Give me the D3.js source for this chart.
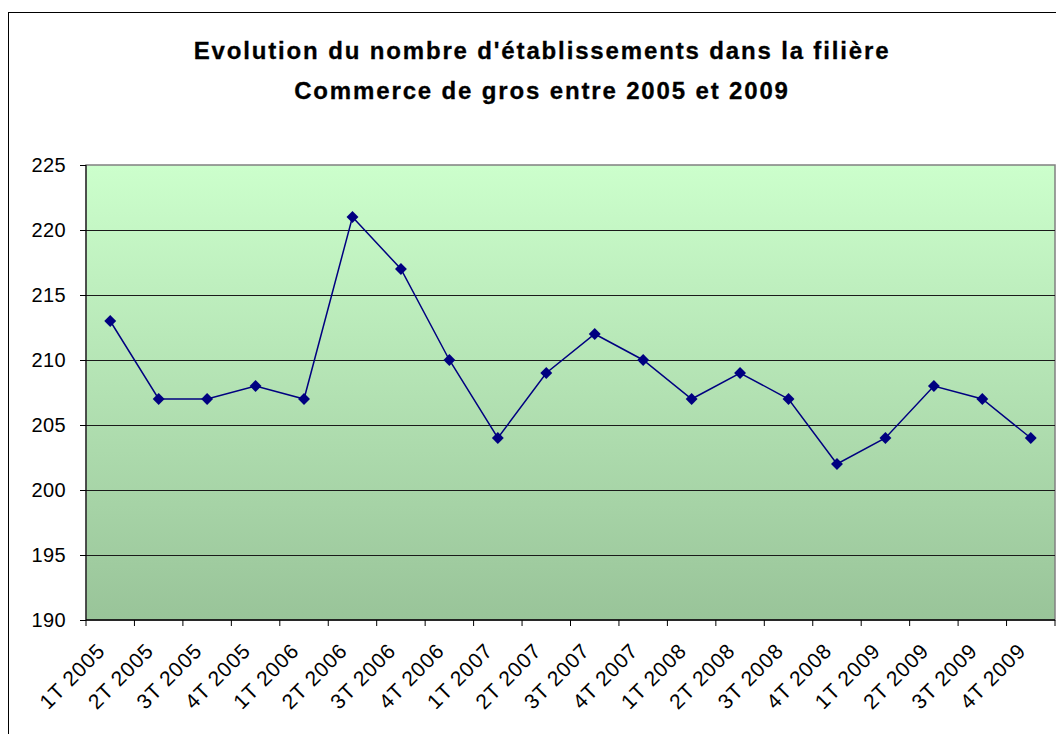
<!DOCTYPE html>
<html>
<head>
<meta charset="utf-8">
<script src="https://cdn.jsdelivr.net/npm/d3@7"></script>
<style>
  body { margin: 0; background: #fff; }
  text { font-family: Arial, "Liberation Sans", sans-serif; }
</style>
</head>
<body>
<script>
// trimestres
const categories = ["1T 2005", "2T 2005", "3T 2005", "4T 2005", "1T 2006", "2T 2006", "3T 2006", "4T 2006",
  "1T 2007", "2T 2007", "3T 2007", "4T 2007", "1T 2008", "2T 2008", "3T 2008", "4T 2008",
  "1T 2009", "2T 2009", "3T 2009", "4T 2009"];
const values = [213, 207, 207, 208, 207, 221, 217, 210, 204, 209, 212, 210, 207, 209, 207, 202, 204, 208, 207, 204];
const yTicks = [190, 195, 200, 205, 210, 215, 220, 225];
const titleLines = ["Evolution du nombre d'établissements dans la filière", "Commerce de gros entre 2005 et 2009"];

const W = 1056, H = 734;
const plotL = 86, plotR = 1055, plotT = 165, plotB = 620;

const svg = d3.select("body").append("svg").attr("width", W).attr("height", H);

// gradient du fond
const grad = svg.append("defs").append("linearGradient")
  .attr("id", "bg").attr("x1", 0).attr("y1", 0).attr("x2", 0).attr("y2", 1);
grad.append("stop").attr("offset", "0%").attr("stop-color", "#ccffcc");
grad.append("stop").attr("offset", "100%").attr("stop-color", "#99c499");

// cadre du graphique
svg.append("rect")
  .attr("x", 8.5).attr("y", 12.5).attr("width", W + 10).attr("height", H + 10)
  .style("fill", "white").style("stroke", "black").style("stroke-width", 1);

svg.append("g").selectAll("text")
  .data(titleLines)
  .enter().append("text")
  .attr("x", 542)
  .attr("y", (d, i) => 59 + i * 40)
  .attr("text-anchor", "middle")
  .style("font-size", "24px").style("font-weight", "bold")
  .style("letter-spacing", "1.85px")
  .style("stroke", "#000").style("stroke-width", 0.3)
  .text(d => d);

const xScale = d3.scaleBand().domain(categories).range([plotL, plotR]);
const yScale = d3.scaleLinear().domain([190, 225]).range([plotB, plotT]);

svg.append("rect")
  .attr("x", plotL).attr("y", plotT).attr("width", plotR - plotL).attr("height", plotB - plotT)
  .style("fill", "url(#bg)")
  .style("stroke", "#808080").style("stroke-width", 1.5);

// grille
svg.append("g").selectAll("line")
  .data(yTicks.filter(t => t > 190 && t < 225))
  .enter().append("line")
  .attr("x1", plotL).attr("x2", plotR)
  .attr("y1", d => Math.round(yScale(d)) + 0.5).attr("y2", d => Math.round(yScale(d)) + 0.5)
  .style("stroke", "#1a1a1a").style("stroke-width", 1.2);

const yAxis = d3.axisLeft(yScale).tickValues(yTicks).tickSize(6).tickPadding(14);
const yG = svg.append("g").attr("transform", "translate(" + plotL + ",0)").call(yAxis);
yG.selectAll("text").style("font-size", "20px").style("fill", "#000").style("letter-spacing", "0.4px");
yG.selectAll("line,path").style("stroke", "#000");
yG.select("path").attr("d", "M0," + plotT + "V" + plotB);

const xAxis = d3.axisBottom(xScale).tickSize(0).tickFormat("");
const xG = svg.append("g").attr("transform", "translate(0," + plotB + ")").call(xAxis);
xG.select("path").attr("d", "M" + plotL + ",0H" + plotR).style("stroke", "#000").style("stroke-width", 1.5);
xG.selectAll("line.sep")
  .data(d3.range(categories.length + 1))
  .enter().append("line")
  .attr("class", "sep")
  .attr("x1", i => plotL + i * xScale.bandwidth()).attr("x2", i => plotL + i * xScale.bandwidth())
  .attr("y1", 0).attr("y2", 6)
  .style("stroke", "#000");

svg.append("g").selectAll("text")
  .data(categories)
  .enter().append("text")
  .attr("transform", d => "translate(" + (xScale(d) + xScale.bandwidth() / 2 - 9) + "," + (plotB + 27) + ") rotate(-45)")
  .attr("text-anchor", "end")
  .attr("dy", "0.35em")
  .style("font-size", "21px")
  .style("letter-spacing", "0.8px")
  .text(d => d);

const cx = (d, i) => xScale(categories[i]) + xScale.bandwidth() / 2;

svg.append("path")
  .datum(values)
  .attr("d", d3.line().x(cx).y(d => yScale(d)))
  .style("fill", "none").style("stroke", "#000080").style("stroke-width", 1.5);

svg.append("g").selectAll("path")
  .data(values)
  .enter().append("path")
  .attr("d", d3.symbol().type(d3.symbolDiamond2).size(90))
  .attr("transform", (d, i) => "translate(" + cx(d, i) + "," + yScale(d) + ")")
  .style("fill", "#000080");
</script>
</body>
</html>
